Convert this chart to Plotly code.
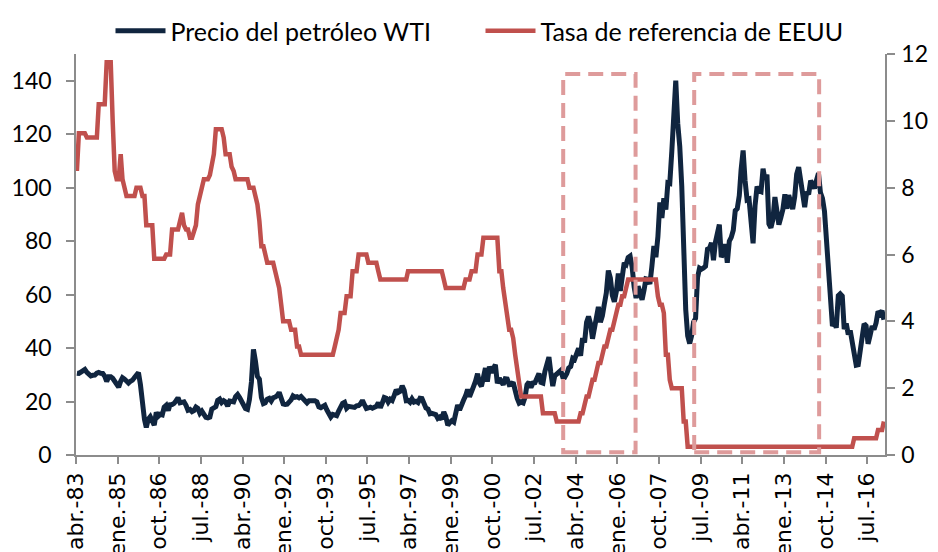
import pandas as pd
import plotly.graph_objects as go

# Monthly data, abr-1983 .. mar-2017 (408 months)
start_month = "1983-04-01"
n_months = 408

# WTI oil price (USD/bbl), month-end
wti = [
    30.6, 30.5, 31.0, 31.7, 32.0, 30.9, 30.1, 29.6, 29.8,                     # 1983 (abr-dic)
    29.9, 30.6, 30.9, 30.6, 30.5, 29.5, 27.5, 29.3, 29.3, 28.7, 27.8, 26.6,   # 1984
    25.4, 27.6, 28.9, 28.4, 27.6, 26.9, 27.6, 28.0, 29.0, 30.0, 30.8, 26.3,   # 1985
    18.8, 13.3, 10.3, 13.4, 14.3, 12.6, 11.2, 15.9, 14.5, 15.2, 15.0, 17.9,   # 1986
    18.6, 16.6, 18.8, 18.9, 19.3, 20.3, 21.4, 19.5, 19.9, 19.9, 18.6, 16.7,   # 1987
    17.0, 16.2, 16.6, 17.9, 17.4, 15.6, 16.4, 15.2, 14.1, 13.9, 14.2, 17.2,   # 1988
    17.9, 18.1, 20.4, 20.9, 19.6, 20.3, 19.8, 18.3, 20.2, 20.2, 19.9, 21.8,   # 1989
    22.6, 21.5, 20.3, 18.6, 17.4, 17.1, 20.7, 27.3, 39.5, 35.2, 29.4, 28.4,   # 1990
    21.5, 19.2, 19.5, 20.9, 21.2, 20.2, 21.4, 21.7, 22.2, 23.4, 21.5, 19.1,   # 1991
    18.9, 19.0, 19.8, 20.6, 22.1, 21.6, 21.8, 21.4, 21.9, 21.1, 20.3, 19.5,   # 1992
    20.3, 20.4, 20.2, 20.3, 19.9, 18.0, 17.7, 18.0, 18.6, 16.9, 15.0, 14.2,   # 1993
    15.2, 14.8, 14.7, 16.4, 18.0, 19.3, 19.7, 17.5, 18.2, 18.2, 18.1, 17.8,   # 1994
    18.4, 18.5, 19.1, 20.4, 18.9, 17.4, 17.6, 17.9, 17.5, 17.7, 18.2, 19.6,   # 1995
    17.7, 19.5, 21.5, 21.2, 19.8, 20.9, 20.4, 22.3, 24.4, 23.4, 23.8, 25.9,   # 1996
    24.2, 20.3, 20.4, 19.7, 21.0, 19.8, 20.1, 19.6, 21.2, 21.1, 19.2, 17.6,   # 1997
    17.2, 15.4, 15.6, 15.3, 15.1, 13.7, 14.2, 13.4, 16.1, 14.4, 11.2, 12.1,   # 1998
    12.8, 12.3, 16.8, 18.7, 16.8, 19.3, 20.5, 22.1, 24.5, 21.8, 24.6, 25.6,   # 1999
    27.6, 30.4, 26.9, 25.7, 29.0, 32.5, 27.4, 33.1, 30.8, 32.7, 33.8, 26.8,   # 2000
    28.7, 27.4, 26.3, 28.5, 28.4, 26.3, 26.4, 27.2, 23.4, 21.2, 19.4, 19.8,   # 2001
    19.5, 21.7, 26.3, 27.3, 25.3, 26.9, 27.0, 28.9, 30.5, 27.2, 26.9, 31.2,   # 2002
    33.5, 36.6, 31.0, 25.8, 29.6, 30.2, 30.5, 31.6, 29.2, 29.1, 30.4, 32.5,   # 2003
    33.1, 36.2, 35.8, 37.4, 39.9, 37.1, 43.8, 42.1, 49.6, 51.8, 49.1, 43.5,   # 2004
    48.2, 51.8, 55.4, 49.7, 52.0, 56.5, 60.6, 69.0, 66.2, 59.8, 57.3, 61.0,   # 2005
    67.9, 61.4, 66.6, 71.9, 71.3, 73.9, 74.4, 70.3, 62.9, 58.7, 63.1, 61.1,   # 2006
    58.1, 61.8, 65.9, 65.7, 64.0, 70.7, 78.2, 74.0, 81.7, 94.5, 88.7, 96.0,   # 2007
    91.8, 101.8, 101.6, 113.5, 127.4, 140.0, 124.1, 115.5, 100.6, 67.8, 54.4, 44.6,  # 2008
    41.7, 44.8, 49.7, 51.1, 66.3, 69.9, 69.5, 70.0, 70.6, 77.0, 77.3, 79.4,   # 2009
    72.9, 79.7, 83.8, 86.2, 74.0, 75.6, 78.9, 71.9, 80.0, 81.4, 84.1, 91.4,   # 2010
    92.2, 97.0, 106.7, 113.9, 102.7, 95.4, 95.7, 88.8, 79.2, 93.2, 100.4, 98.8,  # 2011
    98.5, 107.1, 103.0, 104.9, 86.5, 85.0, 88.1, 96.5, 92.2, 86.2, 88.9, 91.8,   # 2012
    97.5, 92.1, 97.2, 93.5, 92.0, 96.6, 105.0, 107.7, 102.3, 96.4, 92.7, 98.4,   # 2013
    97.5, 102.6, 101.6, 99.7, 102.7, 105.4, 98.2, 96.0, 91.2, 80.5, 66.2, 53.3,  # 2014
    48.2, 49.8, 47.6, 59.6, 60.3, 59.5, 47.1, 49.2, 45.1, 46.6, 41.7, 37.0,   # 2015
    33.6, 33.8, 38.3, 45.9, 49.1, 48.3, 41.6, 44.7, 48.2, 46.9, 49.4, 53.7,   # 2016
    52.8, 54.0, 50.6,                                                          # 2017 (ene-mar)
]

# US reference rate (%), month-end
fed_rate = [
    8.5, 9.625, 9.625, 9.625, 9.625, 9.5, 9.5, 9.5, 9.5,                         # 1983 (abr-dic)
    9.5, 9.5, 10.5, 10.5, 10.5, 10.5, 11.75, 11.75, 11.75, 10.0, 8.5, 8.25,      # 1984
    8.25, 9.0, 8.25, 8.0, 7.75, 7.75, 7.75, 7.75, 7.75, 8.0, 8.0, 8.0,           # 1985
    7.75, 7.75, 6.875, 6.875, 6.875, 6.875, 5.875, 5.875, 5.875, 5.875, 5.875, 5.875,  # 1986
    6.0, 6.0, 6.0, 6.75, 6.75, 6.75, 6.75, 7.0, 7.25, 6.875, 6.75, 6.75,         # 1987
    6.5, 6.5, 6.75, 6.875, 7.5, 7.75, 8.0, 8.25, 8.25, 8.25, 8.375, 8.75,        # 1988
    9.0, 9.75, 9.75, 9.75, 9.75, 9.5, 9.0, 9.0, 9.0, 8.625, 8.5, 8.25,           # 1989
    8.25, 8.25, 8.25, 8.25, 8.25, 8.25, 8.0, 8.0, 8.0, 7.75, 7.5, 7.0,           # 1990
    6.25, 6.25, 6.0, 5.75, 5.75, 5.75, 5.75, 5.5, 5.25, 5.0, 4.5, 4.0,           # 1991
    4.0, 4.0, 4.0, 3.75, 3.75, 3.75, 3.25, 3.25, 3.0, 3.0, 3.0, 3.0,             # 1992
    3.0, 3.0, 3.0, 3.0, 3.0, 3.0, 3.0, 3.0, 3.0, 3.0, 3.0, 3.0,                  # 1993
    3.0, 3.25, 3.5, 3.75, 4.25, 4.25, 4.25, 4.75, 4.75, 4.75, 5.5, 5.5,          # 1994
    5.5, 6.0, 6.0, 6.0, 6.0, 6.0, 5.75, 5.75, 5.75, 5.75, 5.75, 5.5,             # 1995
    5.25, 5.25, 5.25, 5.25, 5.25, 5.25, 5.25, 5.25, 5.25, 5.25, 5.25, 5.25,      # 1996
    5.25, 5.25, 5.5, 5.5, 5.5, 5.5, 5.5, 5.5, 5.5, 5.5, 5.5, 5.5,                # 1997
    5.5, 5.5, 5.5, 5.5, 5.5, 5.5, 5.5, 5.5, 5.25, 5.0, 5.0, 5.0,                 # 1998
    5.0, 5.0, 5.0, 5.0, 5.0, 5.0, 5.0, 5.25, 5.25, 5.25, 5.5, 5.5,               # 1999
    5.5, 6.0, 6.0, 6.0, 6.5, 6.5, 6.5, 6.5, 6.5, 6.5, 6.5, 6.5,                  # 2000
    5.5, 5.5, 5.0, 4.5, 4.0, 3.75, 3.75, 3.5, 3.0, 2.5, 2.0, 1.75,               # 2001
    1.75, 1.75, 1.75, 1.75, 1.75, 1.75, 1.75, 1.75, 1.75, 1.75, 1.25, 1.25,      # 2002
    1.25, 1.25, 1.25, 1.25, 1.25, 1.0, 1.0, 1.0, 1.0, 1.0, 1.0, 1.0,             # 2003
    1.0, 1.0, 1.0, 1.0, 1.0, 1.25, 1.25, 1.5, 1.75, 1.75, 2.0, 2.25,             # 2004
    2.25, 2.5, 2.75, 2.75, 3.0, 3.25, 3.25, 3.5, 3.75, 3.75, 4.0, 4.25,          # 2005
    4.5, 4.5, 4.75, 4.75, 5.0, 5.25, 5.25, 5.25, 5.25, 5.25, 5.25, 5.25,         # 2006
    5.25, 5.25, 5.25, 5.25, 5.25, 5.25, 5.25, 5.25, 4.75, 4.5, 4.5, 4.25,        # 2007
    3.0, 3.0, 2.25, 2.0, 2.0, 2.0, 2.0, 2.0, 2.0, 1.0, 1.0, 0.25,                # 2008
    0.25, 0.25, 0.25, 0.25, 0.25, 0.25, 0.25, 0.25, 0.25, 0.25, 0.25, 0.25,      # 2009
    0.25, 0.25, 0.25, 0.25, 0.25, 0.25, 0.25, 0.25, 0.25, 0.25, 0.25, 0.25,      # 2010
    0.25, 0.25, 0.25, 0.25, 0.25, 0.25, 0.25, 0.25, 0.25, 0.25, 0.25, 0.25,      # 2011
    0.25, 0.25, 0.25, 0.25, 0.25, 0.25, 0.25, 0.25, 0.25, 0.25, 0.25, 0.25,      # 2012
    0.25, 0.25, 0.25, 0.25, 0.25, 0.25, 0.25, 0.25, 0.25, 0.25, 0.25, 0.25,      # 2013
    0.25, 0.25, 0.25, 0.25, 0.25, 0.25, 0.25, 0.25, 0.25, 0.25, 0.25, 0.25,      # 2014
    0.25, 0.25, 0.25, 0.25, 0.25, 0.25, 0.25, 0.25, 0.25, 0.25, 0.25, 0.5,       # 2015
    0.5, 0.5, 0.5, 0.5, 0.5, 0.5, 0.5, 0.5, 0.5, 0.5, 0.5, 0.75,                 # 2016
    0.75, 0.75, 1.0,                                                             # 2017 (ene-mar)
]

tick_labels = ["abr.-83", "ene.-85", "oct.-86", "jul.-88", "abr.-90", "ene.-92",
               "oct.-93", "jul.-95", "abr.-97", "ene.-99", "oct.-00", "jul.-02",
               "abr.-04", "ene.-06", "oct.-07", "jul.-09", "abr.-11", "ene.-13",
               "oct.-14", "jul.-16"]
tick_step_months = 21

# highlighted periods (dashed boxes)
box_periods = [("2003-09-22", "2006-10-07"), ("2009-03-25", "2014-06-25")]
box_top = 142.5

series_names = ["Precio del petróleo WTI", "Tasa de referencia de EEUU"]

month_starts = pd.date_range(start_month, periods=n_months, freq="MS")
x_dates = month_starts + pd.Timedelta(days=14)
tick_vals = pd.date_range(start_month, periods=len(tick_labels),
                          freq=f"{tick_step_months}MS")
x_end = pd.Timestamp(start_month) + pd.DateOffset(months=n_months)

fig = go.Figure()
fig.add_trace(go.Scatter(x=x_dates, y=wti, name=series_names[0], mode="lines",
                         line=dict(color="#10253F", width=5)))
fig.add_trace(go.Scatter(x=x_dates, y=fed_rate, name=series_names[1], mode="lines",
                         line=dict(color="#C0504D", width=4.5), yaxis="y2"))

for x0, x1 in box_periods:
    fig.add_shape(type="rect", xref="x", yref="y", x0=x0, x1=x1, y0=1, y1=box_top,
                  line=dict(color="#DE9B9B", width=4, dash="15px,8px"),
                  fillcolor="rgba(0,0,0,0)", layer="above")

axis_color = "#8C8C8C"
fig.update_layout(
    width=930, height=544, autosize=False,
    margin=dict(l=68, r=53, t=44, b=97),
    paper_bgcolor="white", plot_bgcolor="white",
    font=dict(family="Lato", color="#000000"),
    showlegend=True,
    legend=dict(orientation="h", x=0.5, xanchor="center",
                yref="container", y=1.0, yanchor="top",
                font=dict(size=25, family="Lato"), itemwidth=50,
                entrywidth=305, entrywidthmode="pixels",
                bgcolor="rgba(0,0,0,0)"),
    xaxis=dict(type="date", range=[start_month, x_end], tickmode="array",
               tickvals=tick_vals, ticktext=tick_labels, tickangle=-90,
               ticks="outside", ticklen=7, tickwidth=1.5, tickcolor=axis_color,
               showline=True, linecolor=axis_color, linewidth=1.5,
               showgrid=False, zeroline=False, automargin=False,
               tickfont=dict(size=22, family="DejaVu Sans")),
    yaxis=dict(range=[0, 150], tick0=0, dtick=20, ticks="outside", ticklen=8,
               tickwidth=1.5, tickcolor=axis_color, showline=True,
               linecolor=axis_color, linewidth=1.5, showgrid=False, zeroline=False,
               automargin=False, tickfont=dict(size=23), ticklabelstandoff=10),
    yaxis2=dict(range=[0, 12], tick0=0, dtick=2, overlaying="y", side="right",
                ticks="outside", ticklen=8, tickwidth=1.5, tickcolor=axis_color,
                showline=True, linecolor=axis_color, linewidth=1.5,
                showgrid=False, zeroline=False, automargin=False,
                tickfont=dict(size=23), ticklabelstandoff=2),
)

fig.write_html("out.html")
